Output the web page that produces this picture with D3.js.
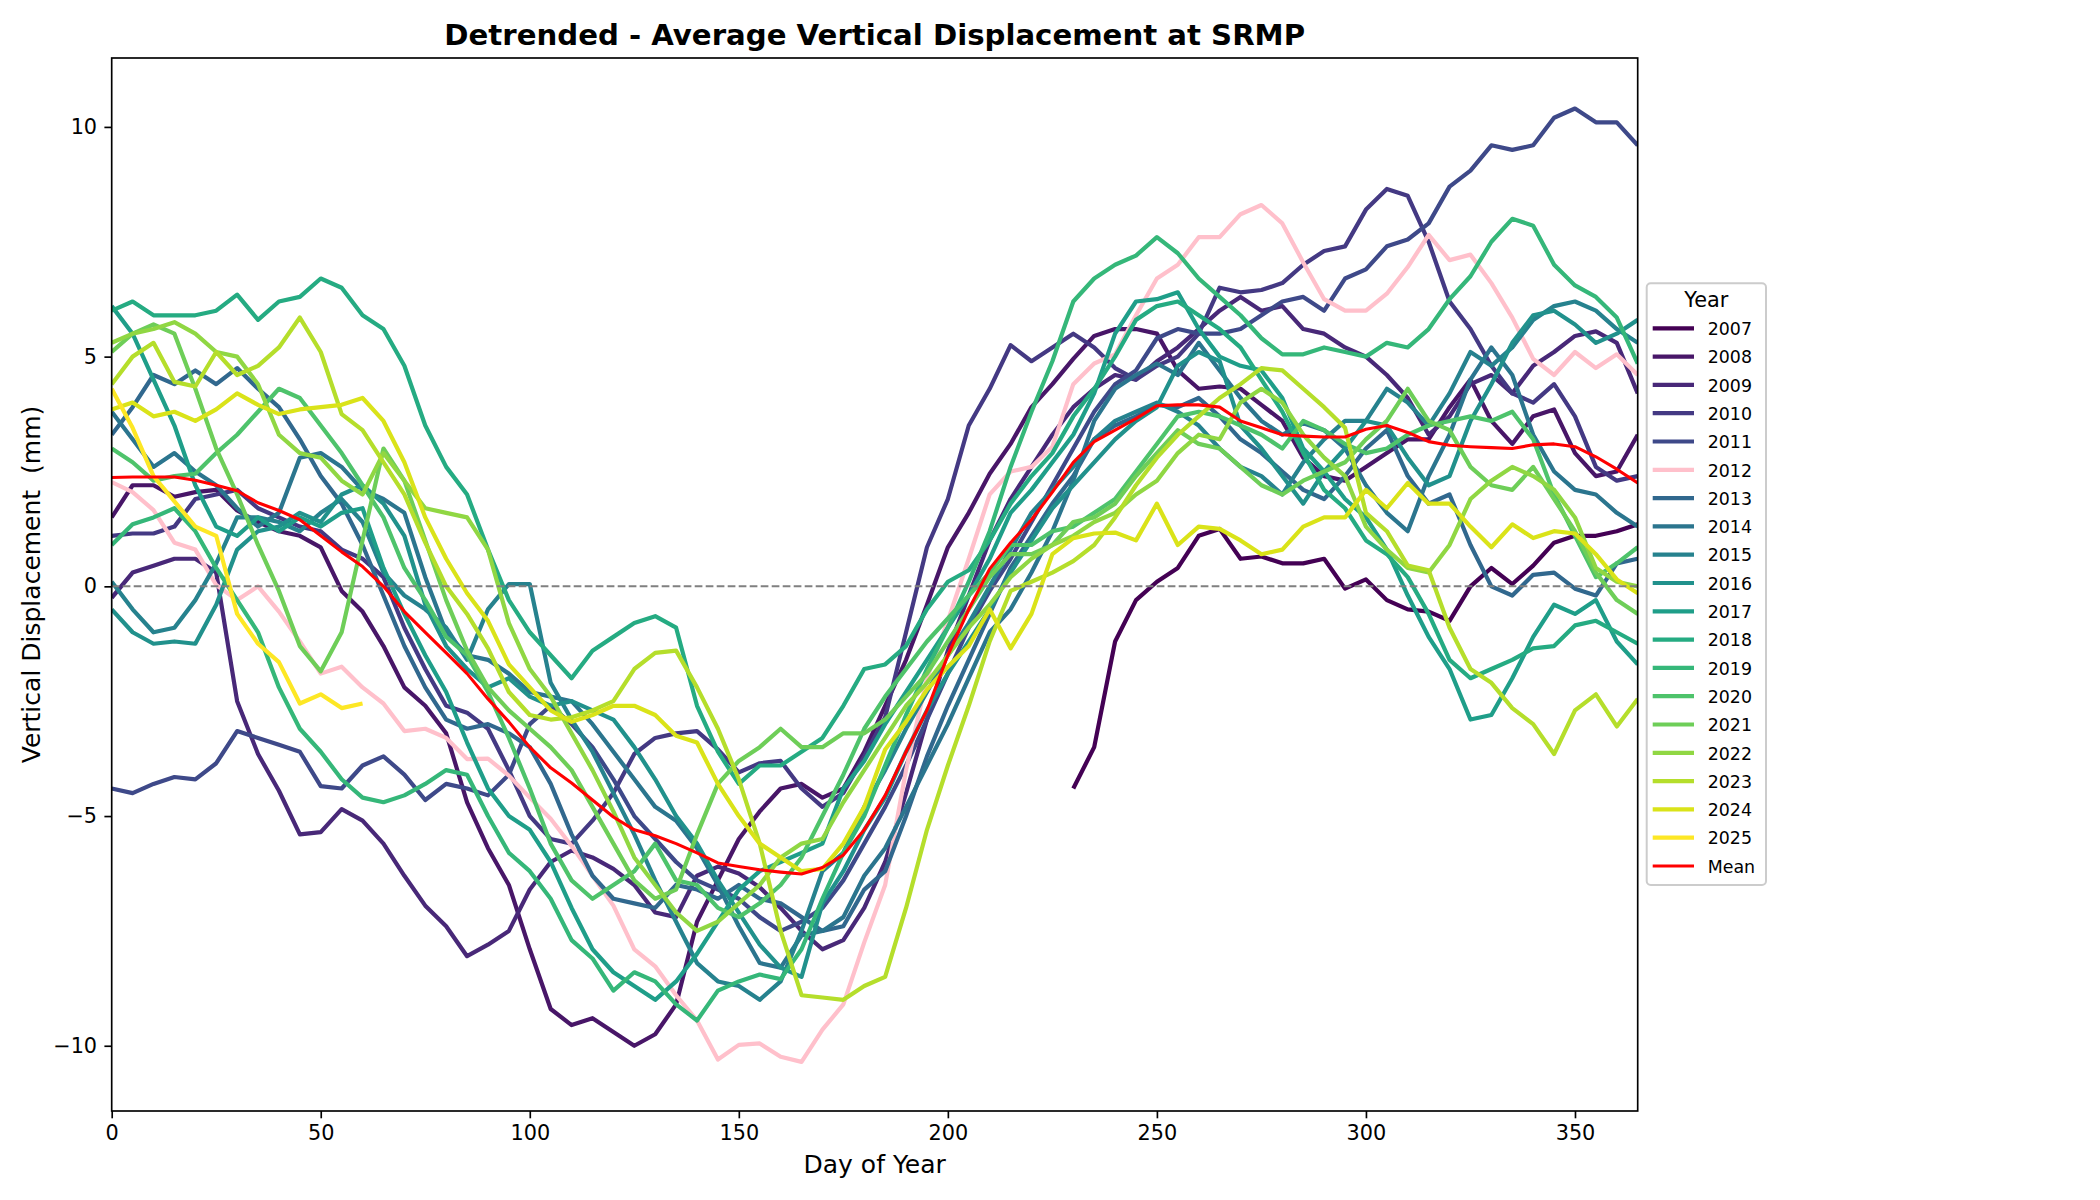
<!DOCTYPE html>
<html>
<head>
<meta charset="utf-8">
<script src="https://cdn.jsdelivr.net/npm/d3@7"></script>
<style>
  body { margin: 0; background: white; }
  text { font-family: 'DejaVu Sans', sans-serif; }
</style>
</head>
<body>
<svg id="chart" width="2100" height="1200"></svg>
<script>
const days = [
  0, 5, 10, 15, 20, 25, 30, 35, 40, 45,
  50, 55, 60, 65, 70, 75, 80, 85, 90, 95,
  100, 105, 110, 115, 120, 125, 130, 135, 140, 145,
  150, 155, 160, 165, 170, 175, 180, 185, 190, 195,
  200, 205, 210, 215, 220, 225, 230, 235, 240, 245,
  250, 255, 260, 265, 270, 275, 280, 285, 290, 295,
  300, 305, 310, 315, 320, 325, 330, 335, 340, 345,
  350, 355, 360, 365,
]

const years = ['2007', '2008', '2009', '2010', '2011', '2012', '2013', '2014', '2015',
  '2016', '2017', '2018', '2019', '2020', '2021', '2022', '2023', '2024', '2025']

const v2007 = [
  null, null, null, null, null, null, null, null, null, null,
  null, null, null, null, null, null, null, null, null, null,
  null, null, null, null, null, null, null, null, null, null,
  null, null, null, null, null, null, null, null, null, null,
  null, null, null, null, null, null, -4.4, -3.5, -1.2, -0.3,
  0.1, 0.4, 1.1, 1.25, 0.6, 0.65, 0.5, 0.5, 0.6, -0.05,
  0.15, -0.3, -0.5, -0.55, -0.75, 0.0, 0.4, 0.05, 0.45, 0.95,
  1.1, 1.1, 1.2, 1.35,
]
const v2008 = [
  1.5, 2.2, 2.2, 1.95, 2.05, 2.1, 1.65, 1.4, 1.2, 1.1,
  0.85, -0.1, -0.55, -1.3, -2.2, -2.6, -3.2, -4.7, -5.7, -6.5,
  -7.9, -9.2, -9.55, -9.4, -9.7, -10.0, -9.75, -9.1, -7.3, -6.4,
  -5.5, -4.9, -4.4, -4.3, -4.6, -4.4, -3.6, -2.6, -1.6, -0.4,
  0.85, 1.6, 2.45, 3.1, 3.9, 4.4, 4.95, 5.45, 5.6, 5.6,
  5.5, 4.7, 4.3, 4.35, 4.3, 3.95, 3.6, 2.8, 2.4, 2.3,
  2.6, 2.9, 3.2, 3.2, 3.9, 4.5, 3.6, 3.1, 3.7, 3.85,
  2.9, 2.4, 2.5, 3.3,
]
const v2009 = [
  -0.25, 0.3, 0.45, 0.6, 0.6, 0.3, -2.5, -3.65, -4.45, -5.4,
  -5.35, -4.85, -5.1, -5.6, -6.3, -6.95, -7.4, -8.05, -7.8, -7.5,
  -6.6, -6.0, -5.75, -5.9, -6.15, -6.5, -7.1, -7.2, -6.3, -6.1,
  -6.25, -6.55, -7.0, -7.5, -7.9, -7.7, -7.0, -6.0, -4.5, -2.9,
  -1.4, -0.2, 1.0, 1.9, 2.6, 3.3, 3.9, 4.3, 4.6, 4.5,
  4.9, 5.2, 5.6, 6.0, 6.3, 6.0, 6.1, 5.6, 5.5, 5.2,
  5.0, 4.6, 4.1, 3.3, 3.7, 4.4, 4.6, 4.2, 4.8, 5.1,
  5.45, 5.55, 5.3, 4.2,
]
const v2010 = [
  1.1, 1.15, 1.15, 1.3, 1.9, 2.0, 2.1, 1.7, 1.5, 1.3,
  1.2, 0.8, 0.6, 0.2, -0.9, -1.8, -2.6, -2.75, -3.1, -4.0,
  -5.0, -5.5, -5.6, -5.1, -4.5, -3.65, -3.3, -3.2, -3.15, -3.55,
  -4.05, -3.85, -3.8, -4.4, -4.8, -4.5, -3.7, -2.85, -1.0, 0.85,
  1.9, 3.5, 4.3, 5.25, 4.9, 5.2, 5.5, 5.2, 4.75, 4.5,
  4.8, 5.0, 5.5, 6.5, 6.4, 6.45, 6.6, 7.0, 7.3, 7.4,
  8.2, 8.65, 8.5, 7.5, 6.2, 5.6, 4.8, 4.2, 4.0, 4.4,
  3.7, 2.6, 2.3, 2.4,
]
const v2011 = [
  -4.4, -4.5, -4.3, -4.15, -4.2, -3.85, -3.15, -3.3, -3.45, -3.6,
  -4.35, -4.4, -3.9, -3.7, -4.1, -4.65, -4.3, -4.4, -4.55, -4.1,
  -3.0, -2.6, -3.0, -3.5, -4.2, -5.0, -5.5, -6.0, -6.4, -6.6,
  -6.8, -7.2, -7.5, -7.3, -7.0, -6.4, -5.6, -4.8, -3.9, -2.9,
  -1.9, -0.9, -0.1, 0.6, 1.4, 2.2, 3.0, 3.8, 4.4, 4.7,
  5.4, 5.6, 5.5, 5.5, 5.6, 5.9, 6.2, 6.3, 6.0, 6.7,
  6.9, 7.4, 7.55, 7.9, 8.7, 9.05, 9.6, 9.5, 9.6, 10.2,
  10.4, 10.1, 10.1, 9.6,
]
const v2012 = [
  2.27, 2.05, 1.66, 0.95, 0.8, 0.03, -0.3, 0.0, -0.55, -1.2,
  -1.9, -1.75, -2.2, -2.55, -3.15, -3.1, -3.3, -3.76, -3.75, -4.12,
  -4.6, -5.06, -5.65, -6.3, -6.95, -7.9, -8.27, -8.9, -9.45, -10.3,
  -9.98, -9.95, -10.24, -10.35, -9.65, -9.1, -7.75, -6.5, -4.0, -2.0,
  -0.75, 0.6, 2.0, 2.5, 2.6, 3.04, 4.4, 4.85, 5.05, 5.9,
  6.7, 7.0, 7.6, 7.6, 8.1, 8.3, 7.9, 7.05, 6.25, 6.0,
  6.0, 6.37, 6.95, 7.65, 7.1, 7.22, 6.6, 5.85, 4.95, 4.6,
  5.1, 4.75, 5.05, 4.6,
]
const v2013 = [
  3.3, 3.9, 4.6, 4.4, 4.7, 4.4, 4.75, 4.3, 3.9, 3.2,
  2.4, 1.8, 0.9, -0.2, -1.3, -2.2, -2.9, -3.1, -3.0, -3.2,
  -3.5, -4.3, -5.4, -6.3, -6.8, -6.9, -7.0, -6.5, -6.6, -6.8,
  -6.5, -6.8, -6.9, -7.2, -7.5, -7.4, -6.6, -6.2, -5.0, -3.7,
  -2.6, -1.6, -0.6, 0.4, 1.1, 1.8, 2.4, 3.2, 3.5, 3.7,
  3.95, 3.9, 4.1, 3.7, 3.2, 2.9, 2.5, 2.1, 1.9, 2.4,
  3.0, 3.4, 2.4, 1.8, 2.0, 0.9, 0.0, -0.2, 0.25, 0.3,
  -0.05, -0.2, 0.5, 0.6,
]
const v2014 = [
  3.8, 3.2, 2.6, 2.9, 2.5, 2.2, 1.7, 1.3, 1.6, 2.8,
  2.9, 2.6, 2.1, 1.9, 1.6, 0.2, -1.0, -1.5, -1.6, -1.9,
  -2.3, -2.4, -2.5, -3.0, -3.6, -4.2, -4.8, -5.1, -5.7, -6.5,
  -7.4, -8.2, -8.3, -7.6, -7.5, -7.2, -6.3, -5.7, -4.8, -3.9,
  -3.0, -2.0, -1.0, -0.5, 0.3, 1.2, 2.3, 3.6, 4.3, 4.6,
  4.85, 4.6, 5.3, 4.7, 4.1, 3.6, 3.3, 3.55, 3.4, 3.0,
  2.2, 1.6, 1.2, 2.4, 3.3, 4.5, 5.2, 4.6, 3.3, 2.5,
  2.1, 2.0, 1.6, 1.3,
]
const v2015 = [
  0.1, -0.5, -1.0, -0.9, -0.3, 0.5, 1.5, 1.5, 1.4, 1.2,
  1.6, 1.9, 1.4, 0.3, -0.2, -0.5, -0.9, -1.6, -0.5, 0.05,
  0.05, -2.1, -2.9, -3.6, -4.5, -5.4, -6.4, -7.3, -8.2, -8.6,
  -8.7, -9.0, -8.6, -7.5, -6.2, -5.8, -4.8, -4.0, -3.1, -2.3,
  -1.5, -0.8, 0.0, 0.8, 1.6, 2.1, 2.6, 3.2, 3.6, 3.8,
  4.0, 3.8, 3.5, 3.0, 2.6, 2.4, 2.0, 2.7, 3.2, 3.6,
  3.6, 4.3, 4.0, 3.5, 4.2, 5.1, 4.8, 5.2, 5.8, 6.1,
  6.2, 6.0, 5.6, 5.3,
]
const v2016 = [
  -0.5, -1.0, -1.25, -1.2, -1.25, -0.4, 0.8, 1.2, 1.3, 1.6,
  1.4, 2.0, 2.2, 1.8, 1.1, -0.4, -1.3, -1.8, -2.2, -2.0,
  -2.4, -2.6, -2.5, -2.7, -2.9, -3.5, -4.2, -5.0, -5.6, -6.4,
  -7.1, -7.8, -8.3, -8.5, -6.9, -6.2, -5.3, -4.6, -3.6, -2.7,
  -1.9, -1.2, -0.5, 0.3, 1.0, 1.7, 2.2, 2.7, 3.2, 3.6,
  3.9, 4.8, 5.1, 4.9, 3.5, 3.0, 2.4, 1.8, 2.5, 3.0,
  3.6, 3.5, 2.8, 2.2, 2.4, 3.6, 4.4, 5.3, 5.9, 6.0,
  5.7, 5.3, 5.5, 5.8,
]
const v2017 = [
  6.1, 5.5, 4.5, 3.5, 2.2, 1.3, 1.1, 1.5, 1.2, 1.5,
  1.3, 1.6, 1.7, 0.4, -0.6, -1.5, -2.3, -3.4, -4.4, -5.0,
  -5.3, -6.0, -7.0, -7.9, -8.4, -8.7, -9.0, -8.6, -8.0, -7.3,
  -6.6, -6.2, -6.0, -5.8, -5.6, -4.4, -3.8, -3.0, -2.3, -1.6,
  -0.9, -0.2, 0.6, 1.6, 2.1, 2.7, 3.3, 4.2, 5.5, 6.2,
  6.25, 6.4, 5.6, 5.0, 4.8, 4.7, 4.1, 3.0, 2.5, 1.9,
  1.5, 0.8, -0.2, -1.1, -1.8, -2.9, -2.8, -2.0, -1.1, -0.4,
  -0.6, -0.3, -1.2, -1.7,
]
const v2018 = [
  6.0, 6.2, 5.9, 5.9, 5.9, 6.0, 6.35, 5.8, 6.2, 6.3,
  6.7, 6.5, 5.9, 5.6, 4.8, 3.5, 2.6, 2.0, 0.8, -0.3,
  -1.0, -1.5, -2.0, -1.4, -1.1, -0.8, -0.65, -0.9, -2.6, -3.6,
  -4.3, -3.9, -3.9, -3.6, -3.3, -2.6, -1.8, -1.7, -1.3, -0.5,
  0.1, 0.35, 1.0, 1.8, 2.4, 2.9, 3.7, 4.3, 5.0, 5.8,
  6.1, 6.2, 5.9, 5.6, 5.2, 4.5, 3.8, 2.9, 2.1, 1.7,
  1.0, 0.7, 0.2, -0.6, -1.6, -2.0, -1.8, -1.6, -1.35, -1.3,
  -0.85, -0.75, -1.0, -1.25,
]
const v2019 = [
  0.9, 1.35, 1.5, 1.7, 1.2, 0.4, -0.3, -1.0, -2.2, -3.1,
  -3.6, -4.2, -4.6, -4.7, -4.55, -4.3, -4.0, -4.1, -5.0, -5.8,
  -6.2, -6.8, -7.7, -8.1, -8.8, -8.4, -8.6, -9.1, -9.45, -8.8,
  -8.6, -8.45, -8.55, -7.9, -6.8, -5.8, -5.0, -3.9, -2.8, -1.8,
  -0.9, 0.1, 1.2, 2.6, 3.8, 4.9, 6.2, 6.7, 7.0, 7.2,
  7.6, 7.25, 6.7, 6.3, 5.9, 5.4, 5.05, 5.05, 5.2, 5.1,
  5.0, 5.3, 5.2, 5.6, 6.25, 6.75, 7.5, 8.0, 7.85, 7.0,
  6.55, 6.3, 5.85, 4.85,
]
const v2020 = [
  3.0, 2.7, 2.3, 2.4, 2.45, 2.9, 3.3, 3.8, 4.3, 4.1,
  3.5, 2.9, 2.2, 1.5, 0.4, -0.3, -1.1, -1.5, -2.3, -3.3,
  -4.4, -5.6, -6.4, -6.8, -6.5, -6.2, -5.6, -6.4, -6.5, -7.0,
  -7.2, -6.9, -6.5, -5.9, -5.0, -4.1, -3.1, -2.4, -1.8, -1.2,
  -0.7, -0.2, 0.3, 0.9, 0.9, 1.2, 1.3, 1.6, 1.9, 2.5,
  3.1, 3.7, 3.8, 3.7, 3.5, 3.3, 3.0, 3.6, 3.4, 3.1,
  2.9, 3.0, 3.3, 3.5, 3.6, 3.7, 3.6, 3.8, 3.2, 2.0,
  1.1, 0.2, 0.5, 0.85,
]
const v2021 = [
  5.1, 5.5, 5.7, 5.5, 4.3, 3.0, 2.0, 0.9, -0.1, -1.3,
  -1.85, -1.0, 1.0, 3.0, 2.3, 1.0, -0.3, -1.4, -2.2, -2.7,
  -3.1, -3.5, -4.0, -4.8, -5.6, -6.4, -6.8, -6.6, -5.4, -4.3,
  -3.8, -3.5, -3.1, -3.5, -3.5, -3.2, -3.2, -2.9, -2.4, -1.9,
  -1.2, -0.5, 0.2, 0.7, 0.7, 0.9, 1.4, 1.5, 1.8, 2.4,
  2.9, 3.4, 3.1, 3.0, 2.6, 2.2, 2.0, 2.3, 2.5, 2.7,
  3.2, 3.6, 4.3, 3.6, 3.4, 2.6, 2.2, 2.1, 2.6, 1.9,
  1.2, 0.3, -0.3, -0.6,
]
const v2022 = [
  5.3, 5.5, 5.6, 5.75, 5.5, 5.1, 5.0, 4.4, 3.3, 2.9,
  2.8, 2.3, 2.0, 2.9, 2.3, 1.7, 1.6, 1.5, 0.8, -0.8,
  -1.8, -2.4, -3.2, -4.0, -4.9, -5.9, -6.5, -7.1, -7.5, -7.3,
  -6.9, -6.5, -5.9, -5.6, -5.5, -4.7, -4.0, -3.3, -2.6, -2.1,
  -1.5, -0.9, -0.4, 0.2, 0.6, 0.9, 1.1, 1.4, 1.6, 2.0,
  2.3, 2.9, 3.3, 3.2, 4.0, 4.3, 4.0, 3.3, 2.8, 2.4,
  1.3, 0.8, 0.4, 0.3, 0.9, 1.9, 2.3, 2.6, 2.4, 2.1,
  1.5, 0.4, 0.1, 0.0,
]
const v2023 = [
  4.4, 5.0, 5.3, 4.45, 4.35, 5.1, 4.6, 4.8, 5.2, 5.85,
  5.1, 3.75, 3.4, 2.7, 2.0, 0.95, 0.0, -0.6, -1.35, -2.3,
  -2.8, -2.9, -2.85, -2.7, -2.5, -1.8, -1.45, -1.4, -2.2, -3.1,
  -4.2, -5.6, -7.5, -8.9, -8.95, -9.0, -8.7, -8.5, -7.0, -5.3,
  -3.9, -2.6, -1.2, -0.1, 0.1, 0.3, 0.55, 0.9, 1.5, 2.2,
  2.8, 3.3, 3.7, 4.1, 4.4, 4.75, 4.7, 4.3, 3.9, 3.45,
  1.6, 1.2, 0.45, 0.35, -0.9, -1.8, -2.1, -2.65, -3.0, -3.65,
  -2.7, -2.35, -3.05, -2.45,
]
const v2024 = [
  3.85, 4.0, 3.7, 3.8, 3.6, 3.85, 4.2, 3.95, 3.75, 3.85,
  3.9, 3.95, 4.1, 3.6, 2.7, 1.5, 0.6, -0.15, -0.75, -1.7,
  -2.2, -2.7, -2.95, -2.8, -2.6, -2.6, -2.8, -3.25, -3.4, -4.3,
  -5.0, -5.6, -5.9, -6.2, -6.15, -5.6, -4.8, -3.55, -2.95, -2.25,
  -1.75, -1.3, -0.5, -1.35, -0.6, 0.7, 1.05, 1.15, 1.17, 1.0,
  1.8, 0.9, 1.3, 1.25, 1.0, 0.7, 0.8, 1.3, 1.5, 1.5,
  2.1, 1.7, 2.25, 1.8, 1.8, 1.3, 0.85, 1.35, 1.05, 1.2,
  1.15, 0.7, 0.15, -0.15,
]
const v2025 = [
  4.3, 3.45, 2.4, 1.85, 1.3, 1.1, -0.6, -1.25, -1.65, -2.55,
  -2.35, -2.65, -2.55, null, null, null, null, null, null, null,
  null, null, null, null, null, null, null, null, null, null,
  null, null, null, null, null, null, null, null, null, null,
  null, null, null, null, null, null, null, null, null, null,
  null, null, null, null, null, null, null, null, null, null,
  null, null, null, null, null, null, null, null, null, null,
  null, null, null, null,
]
const meanValues = [
  2.37, 2.38, 2.38, 2.38, 2.31, 2.2, 2.08, 1.82, 1.65, 1.45,
  1.1, 0.75, 0.43, 0.0, -0.55, -1.0, -1.45, -1.9, -2.45, -2.95,
  -3.5, -3.95, -4.28, -4.65, -5.02, -5.3, -5.43, -5.6, -5.8, -6.02,
  -6.1, -6.17, -6.22, -6.26, -6.12, -5.85, -5.3, -4.55, -3.6, -2.7,
  -1.5, -0.5, 0.38, 0.95, 1.45, 2.05, 2.7, 3.15, 3.4, 3.65,
  3.93, 3.95, 3.95, 3.9, 3.6, 3.45, 3.3, 3.27, 3.25, 3.25,
  3.42, 3.5, 3.35, 3.15, 3.07, 3.04, 3.02, 3.0, 3.08, 3.1,
  3.04, 2.82, 2.55, 2.25,
]

const yearValues = [v2007, v2008, v2009, v2010, v2011, v2012, v2013, v2014, v2015,
  v2016, v2017, v2018, v2019, v2020, v2021, v2022, v2023, v2024, v2025]

const xTicks = [0, 50, 100, 150, 200, 250, 300, 350]
const yTicks = [-10, -5, 0, 5, 10]

const width = 2100
const height = 1200
const plot = { left: 111.7, right: 1637.7, top: 58, bottom: 1111 }

const svg = d3.select('#chart')
svg.append('rect').attr('width', width).attr('height', height).attr('fill', 'white')

const x = d3.scaleLinear().domain([0, 365]).range([plot.left, plot.right])
const y = d3.scaleLinear().domain([-11.42, 11.5]).range([plot.bottom, plot.top])

const colorFor = (year, i) =>
  year === '2012' ? 'pink' : d3.interpolateViridis(i / (years.length - 1))

svg.append('clipPath').attr('id', 'plot-clip')
  .append('rect')
  .attr('x', plot.left).attr('y', plot.top)
  .attr('width', plot.right - plot.left).attr('height', plot.bottom - plot.top)

const line = d3.line()
  .defined((d) => d[1] !== null)
  .x((d) => x(d[0]))
  .y((d) => y(d[1]))

const lines = svg.append('g').attr('clip-path', 'url(#plot-clip)')

years.forEach((year, i) => {
  const pts = days.map((d, j) => [d, yearValues[i][j] === undefined ? null : yearValues[i][j]])
  lines.append('path')
    .attr('d', line(pts))
    .attr('fill', 'none')
    .attr('stroke', colorFor(year, i))
    .attr('stroke-width', 4.2)
    .attr('stroke-linejoin', 'round')
})

// zero reference
lines.append('line')
  .attr('x1', plot.left).attr('x2', plot.right)
  .attr('y1', y(0)).attr('y2', y(0))
  .attr('stroke', 'gray')
  .attr('stroke-width', 2)
  .attr('stroke-dasharray', '7.7,3.3')

lines.append('path')
  .attr('d', line(days.map((d, j) => [d, meanValues[j]])))
  .attr('fill', 'none')
  .attr('stroke', 'red')
  .attr('stroke-width', 3.1)
  .attr('stroke-linejoin', 'round')

// axes
const fmt = (d) => (d < 0 ? '\u2212' + Math.abs(d) : String(d))

svg.append('g')
  .attr('transform', `translate(0,${plot.bottom})`)
  .call(d3.axisBottom(x).tickValues(xTicks).tickFormat(fmt).tickSize(7.3).tickPadding(7.3))
  .attr('font-family', 'DejaVu Sans')
  .attr('font-size', 20.8)
  .call((g) => g.select('.domain').remove())
  .call((g) => g.selectAll('line').attr('stroke', 'black').attr('stroke-width', 1.67))

svg.append('g')
  .attr('transform', `translate(${plot.left},0)`)
  .call(d3.axisLeft(y).tickValues(yTicks).tickFormat(fmt).tickSize(7.3).tickPadding(7.3))
  .attr('font-family', 'DejaVu Sans')
  .attr('font-size', 20.8)
  .call((g) => g.select('.domain').remove())
  .call((g) => g.selectAll('line').attr('stroke', 'black').attr('stroke-width', 1.67))

svg.append('rect')
  .attr('x', plot.left).attr('y', plot.top)
  .attr('width', plot.right - plot.left).attr('height', plot.bottom - plot.top)
  .attr('fill', 'none')
  .attr('stroke', 'black')
  .attr('stroke-width', 1.67)

svg.append('text')
  .attr('x', (plot.left + plot.right) / 2)
  .attr('y', 45)
  .attr('text-anchor', 'middle')
  .attr('font-size', 29.2)
  .attr('font-weight', 'bold')
  .text('Detrended - Average Vertical Displacement at SRMP')

svg.append('text')
  .attr('x', (plot.left + plot.right) / 2)
  .attr('y', 1173)
  .attr('text-anchor', 'middle')
  .attr('font-size', 25)
  .text('Day of Year')

svg.append('text')
  .attr('transform', `translate(40,${(plot.top + plot.bottom) / 2}) rotate(-90)`)
  .attr('text-anchor', 'middle')
  .attr('font-size', 25)
  .style('white-space', 'pre')
  .text('Vertical Displacement  (mm)')

// legend
const legend = svg.append('g')
legend.append('rect')
  .attr('x', 1646.7).attr('y', 283.3)
  .attr('width', 119.3).attr('height', 601.7)
  .attr('rx', 4)
  .attr('fill', 'white')
  .attr('fill-opacity', 0.8)
  .attr('stroke', '#cccccc')
  .attr('stroke-width', 2)

legend.append('text')
  .attr('x', 1706.3).attr('y', 306.7)
  .attr('text-anchor', 'middle')
  .attr('font-size', 20.8)
  .text('Year')

const entries = years.map((yr, i) => ({ label: yr, color: colorFor(yr, i), width: 4.2 }))
entries.push({ label: 'Mean', color: 'red', width: 3.1 })

entries.forEach((e, i) => {
  const base = 335 + i * 28.3
  legend.append('line')
    .attr('x1', 1652.7).attr('x2', 1694)
    .attr('y1', base - 6.7).attr('y2', base - 6.7)
    .attr('stroke', e.color)
    .attr('stroke-width', e.width)
  legend.append('text')
    .attr('x', 1707.7).attr('y', base)
    .attr('font-size', 17.4)
    .text(e.label)
})
</script>
</body>
</html>
